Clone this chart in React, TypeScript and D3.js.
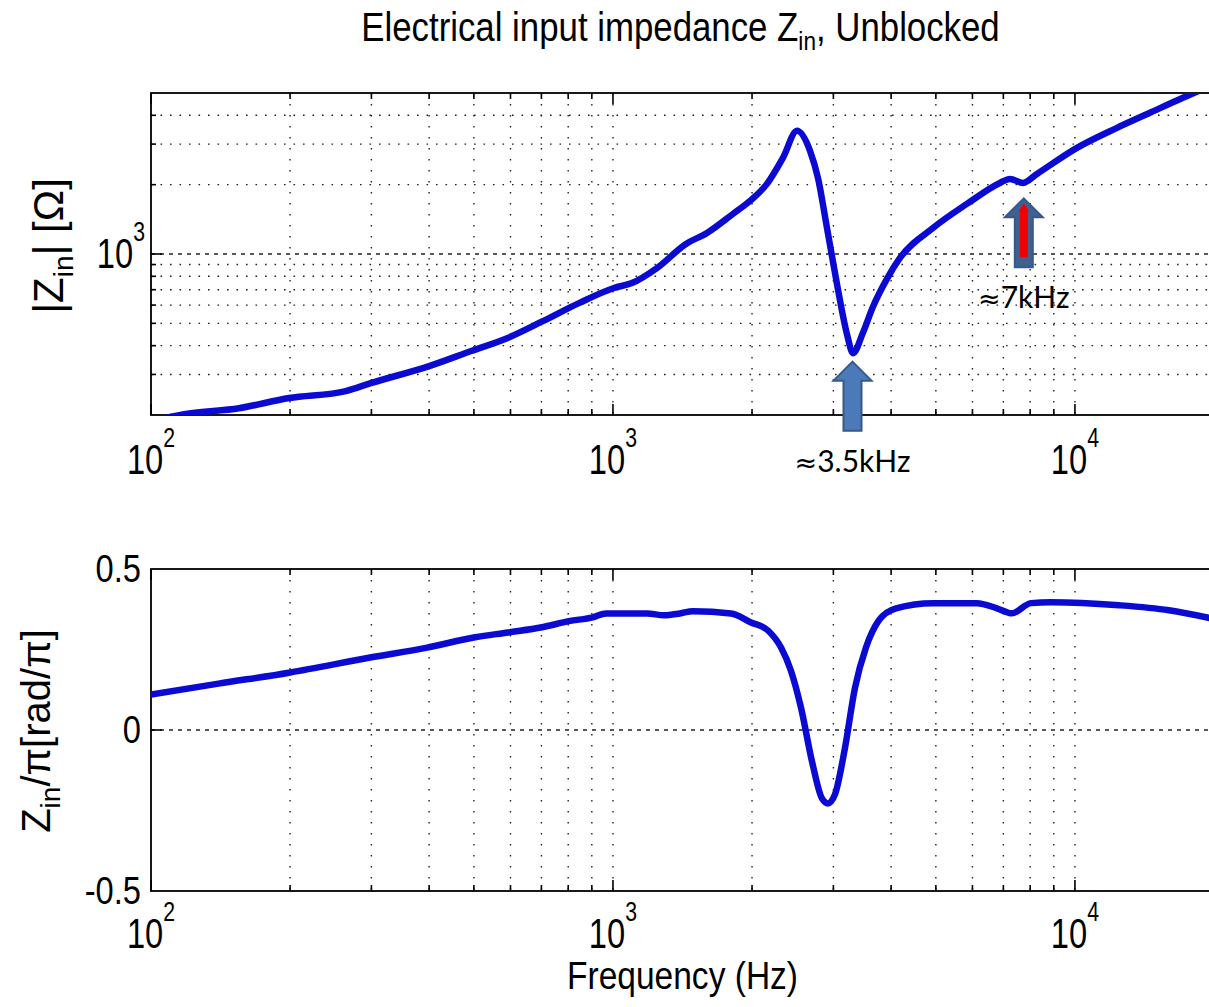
import React, { useEffect, useRef } from 'react';
import * as d3 from 'd3';

// |Zin| (Hz, ohm)
const magFreq = [100, 119, 155, 199, 264, 299, 400, 493, 590, 705, 844, 1005, 1099, 1245, 1439, 1598, 1818, 1980, 2154, 2333, 2503, 2670, 2778, 2906, 3054, 3210, 3308, 3476, 3654, 3918, 4181, 4928, 5837, 6880, 7234, 7717, 8275, 10100, 12330, 14530, 17130, 20000];
const magOhm = [188, 202, 214, 237, 254, 275, 326, 379, 431, 511, 612, 712, 748, 869, 1105, 1234, 1492, 1700, 2015, 2615, 3425, 2804, 2140, 1297, 741, 449, 371, 455, 590, 780, 961, 1297, 1650, 2035, 2119, 2035, 2227, 2890, 3530, 4102, 4766, 5450];

// phase / pi
const phaseFreq = [100, 140, 199, 298, 396, 503, 593, 702, 803, 905, 966, 1185, 1290, 1396, 1490, 1801, 1990, 2166, 2311, 2428, 2553, 2696, 2834, 2920, 3024, 3178, 3341, 3529, 3766, 4100, 4928, 6137, 6778, 7305, 8030, 8873, 12450, 15980, 20000];
const phaseVal = [0.11, 0.144, 0.178, 0.225, 0.256, 0.288, 0.303, 0.319, 0.338, 0.35, 0.362, 0.362, 0.356, 0.362, 0.369, 0.362, 0.334, 0.309, 0.256, 0.184, 0.069, -0.097, -0.2125, -0.228, -0.2, -0.056, 0.131, 0.256, 0.341, 0.378, 0.394, 0.394, 0.378, 0.3625, 0.394, 0.397, 0.3875, 0.372, 0.345];

const xTickExps = [2, 3, 4];
const magTickExps = [3];
const phaseTicks = [-0.5, 0, 0.5];

const arrowFreqs = [3300, 7750];
const arrowGaps = [10, 16];
const arrowLabels = ['3.5kHz', '7kHz'];

const FONT = '"Liberation Sans", Arial, Helvetica, sans-serif';
const LINE_BLUE = '#0a0ad2';

const App = () => {
  const svgRef = useRef(null);

  useEffect(() => {
    const svg = d3.select(svgRef.current);
    svg.selectAll('*').remove();

    const width = 1209;
    const height = 1007;
    const left = 151;
    const right = 1214; // the right edge sits just past the picture
    const magTop = 93, magBottom = 415;
    const phTop = 569, phBottom = 891;

    svg.attr('width', width).attr('height', height);
    svg.append('rect').attr('width', width).attr('height', height).attr('fill', '#fff');

    const x = d3.scaleLog().domain([100, 20000]).range([left, right]);
    const yMag = d3.scaleLog().domain([200, 5000]).range([magBottom, magTop]);
    const yPh = d3.scaleLinear().domain([-0.5, 0.5]).range([phBottom, phTop]);

    const defs = svg.append('defs');
    defs.append('clipPath').attr('id', 'clipMag')
      .append('rect').attr('x', left).attr('y', magTop).attr('width', right - left).attr('height', magBottom - magTop);
    defs.append('clipPath').attr('id', 'clipPh')
      .append('rect').attr('x', left).attr('y', phTop).attr('width', right - left).attr('height', phBottom - phTop);

    // every decade step between 100 and 20000
    const freqTicks = [];
    for (let e = 2; e <= 4; e++) {
      for (let m = 1; m <= 9; m++) {
        const f = m * Math.pow(10, e);
        if (f <= 20000) freqTicks.push(f);
      }
    }
    const isDecade = (v) => Math.abs(Math.log10(v) - Math.round(Math.log10(v))) < 1e-9;

    const dotH = '1.6 7.9';
    const dotV = '1.6 9.4';

    const drawFrame = (top, bottom, hLines, hMajor) => {
      const g = svg.append('g');
      // vertical grid
      freqTicks.filter(f => f > 100 && f < 20000).forEach(f => {
        g.append('line')
          .attr('x1', x(f)).attr('x2', x(f)).attr('y1', top).attr('y2', bottom)
          .attr('stroke', '#222').attr('stroke-width', 1.4)
          .attr('stroke-dasharray', dotV);
      });
      // horizontal grid
      hLines.forEach(v => {
        const major = hMajor(v);
        g.append('line')
          .attr('x1', left).attr('x2', right).attr('y1', v.y).attr('y2', v.y)
          .attr('stroke', '#222').attr('stroke-width', 1.4)
          .attr('stroke-dasharray', major ? '4 5' : dotH);
        g.append('line')
          .attr('x1', left).attr('x2', left + (major ? 11 : 5)).attr('y1', v.y).attr('y2', v.y)
          .attr('stroke', '#000').attr('stroke-width', 1.6);
      });
      // x ticks, inside, top and bottom
      freqTicks.forEach(f => {
        const len = isDecade(f) ? 11 : 6;
        g.append('line').attr('x1', x(f)).attr('x2', x(f)).attr('y1', bottom).attr('y2', bottom - len)
          .attr('stroke', '#000').attr('stroke-width', 1.6);
        g.append('line').attr('x1', x(f)).attr('x2', x(f)).attr('y1', top).attr('y2', top + len)
          .attr('stroke', '#000').attr('stroke-width', 1.6);
      });
      g.append('rect')
        .attr('x', left).attr('y', top).attr('width', right - left).attr('height', bottom - top)
        .attr('fill', 'none').attr('stroke', '#000').attr('stroke-width', 1.8);
    };

    // upper frame
    const magGrid = [300, 400, 500, 600, 700, 800, 900, 1000, 2000, 3000, 4000].map(v => ({ v, y: yMag(v) }));
    drawFrame(magTop, magBottom, magGrid, d => d.v === 1000);
    // lower frame
    drawFrame(phTop, phBottom, [{ v: 0, y: yPh(0) }], () => true);

    // curves
    const magLine = d3.line()
      .x((d, i) => x(magFreq[i]))
      .y(d => yMag(d))
      .curve(d3.curveMonotoneX);
    svg.append('path')
      .attr('clip-path', 'url(#clipMag)')
      .attr('d', magLine(magOhm))
      .attr('fill', 'none').attr('stroke', LINE_BLUE).attr('stroke-width', 6.5)
      .attr('stroke-linejoin', 'round').attr('stroke-linecap', 'round');

    const phLine = d3.line()
      .x((d, i) => x(phaseFreq[i]))
      .y(d => yPh(d))
      .curve(d3.curveMonotoneX);
    svg.append('path')
      .attr('clip-path', 'url(#clipPh)')
      .attr('d', phLine(phaseVal))
      .attr('fill', 'none').attr('stroke', LINE_BLUE).attr('stroke-width', 6.5)
      .attr('stroke-linejoin', 'round').attr('stroke-linecap', 'round');

    // power-of-ten labels, squeezed like the original bitmap font
    const tenLabel = (px, py, exp, anchor) => {
      const g = svg.append('g').attr('transform', `translate(${px},${py}) scale(0.76,1)`);
      const t = g.append('text')
        .attr('font-family', FONT).attr('font-size', 43).attr('fill', '#000')
        .attr('text-anchor', anchor);
      t.append('tspan').text('10');
      t.append('tspan').attr('font-size', 28).attr('dy', -27).text(String(exp));
    };
    xTickExps.forEach(e => {
      tenLabel(x(Math.pow(10, e)), 474, e, 'middle');
      tenLabel(x(Math.pow(10, e)), 948, e, 'middle');
    });
    magTickExps.forEach(e => tenLabel(145, yMag(Math.pow(10, e)) + 14, e, 'end'));

    phaseTicks.forEach(v => {
      svg.append('g').attr('transform', `translate(141,${yPh(v) + 13}) scale(0.86,1)`)
        .append('text')
        .attr('font-family', FONT).attr('font-size', 38).attr('text-anchor', 'end')
        .text(v === 0 ? '0' : String(v));
    });

    // title
    const title = svg.append('g').attr('transform', `translate(${(left + right) / 2 - 2},41) scale(0.87,1)`)
      .append('text')
      .attr('font-family', FONT).attr('font-size', 40).attr('text-anchor', 'middle');
    title.append('tspan').text('Electrical input impedance Z');
    title.append('tspan').attr('font-size', 26).attr('dy', 9).text('in');
    title.append('tspan').attr('dy', -9).text(', Unblocked');

    // y labels
    const yl1 = svg.append('text')
      .attr('transform', `translate(63,${(magTop + magBottom) / 2 - 8}) rotate(-90)`)
      .attr('font-family', FONT).attr('font-size', 42).attr('text-anchor', 'middle');
    yl1.append('tspan').text('|Z');
    yl1.append('tspan').attr('font-size', 28).attr('dy', 10).text('in');
    yl1.append('tspan').attr('dy', -10).text('| [\u03a9]');

    const yl2 = svg.append('text')
      .attr('transform', `translate(50,${(phTop + phBottom) / 2 + 1}) rotate(-90)`)
      .attr('font-family', FONT).attr('font-size', 40).attr('text-anchor', 'middle');
    yl2.append('tspan').text('Z');
    yl2.append('tspan').attr('font-size', 28).attr('dy', 10).text('in');
    yl2.append('tspan').attr('dy', -10).text('/\u03c0[rad/\u03c0]');

    // x label
    svg.append('g').attr('transform', `translate(${(left + right) / 2},989) scale(0.86,1)`)
      .append('text')
      .attr('font-family', FONT).attr('font-size', 39).attr('text-anchor', 'middle')
      .text('Frequency (Hz)');

    // annotation arrows pointing at the two features
    const magAt = (f) => {
      const i = d3.bisectLeft(magFreq, f);
      const f0 = magFreq[i - 1], f1 = magFreq[i];
      const t = (Math.log(f) - Math.log(f0)) / (Math.log(f1) - Math.log(f0));
      return Math.exp(Math.log(magOhm[i - 1]) * (1 - t) + Math.log(magOhm[i]) * t);
    };
    const arrowShape = [[0, 0], [19, 19], [9, 19], [9, 69], [-9, 69], [-9, 19], [-19, 19]];
    arrowFreqs.forEach((f, i) => {
      const ax = x(f);
      const ay = yMag(magAt(f)) + arrowGaps[i];
      const g = svg.append('g').attr('transform', `translate(${ax},${ay})`);
      g.append('polygon')
        .attr('points', arrowShape.map(p => p.join(',')).join(' '))
        .attr('fill', i === 0 ? '#4a7bb8' : '#3f6190')
        .attr('stroke', '#36598a').attr('stroke-width', 2);
      if (i === 1) {
        g.append('polygon')
          .attr('points', '0,5 5,13 4,13 4,59 -4,59 -4,13 -5,13')
          .attr('fill', '#f00000');
      }
      const lbl = g.append('text')
        .attr('y', 110)
        .attr('font-family', 'Lato, "Open Sans", sans-serif').attr('font-size', 30)
        .attr('text-anchor', 'middle').attr('fill', '#000');
      lbl.append('tspan').attr('font-family', '"DejaVu Sans", sans-serif').attr('font-size', 27).text('\u2248');
      lbl.append('tspan').text(arrowLabels[i]);
    });
  }, []);

  return <svg ref={svgRef} style={{ position: 'absolute', left: 0, top: 0 }}></svg>;
};

export default App;
